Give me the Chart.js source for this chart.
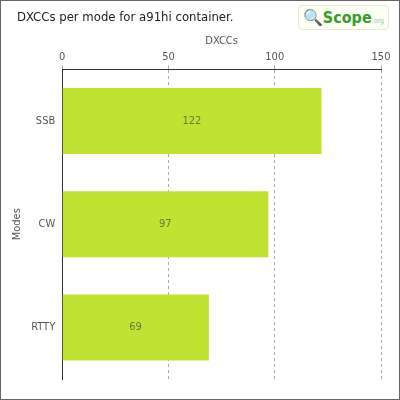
<!DOCTYPE html>
<html>
<head>
<script src="https://cdn.jsdelivr.net/npm/chart.js@4/dist/chart.umd.min.js"></script>
<style>
  body { margin: 0; background: #fff; }
  #wrap { position: relative; width: 398px; height: 398px; border: 1px solid #666; }
  #title { position: absolute; left: 16px; top: 8px; font: 13px "DejaVu Sans Condensed", sans-serif; color: #222; }
  #logo { position: absolute; right: 10px; top: 4px; font: bold 16px "DejaVu Sans Condensed", sans-serif; color: #3a9a2a; border: 1px solid #e4ecd0; border-radius: 4px; padding: 2px 4px; background: #fbfff4; }
  #logo small { font-size: 7px; color: #9c9; font-weight: normal; }
</style>
</head>
<body>
<div id="wrap">
  <canvas id="chart" width="398" height="398"></canvas>
  <div id="title">DXCCs per mode for a91hi container.</div>
  <div id="logo">🔍Scope<small>.org</small></div>
</div>
<script>
const modes = ["SSB", "CW", "RTTY"];
const dxccs = [122, 97, 69];
const xTicks = [0, 50, 100, 150];

const fontFamily = "'DejaVu Sans Condensed', sans-serif";

new Chart(document.getElementById("chart"), {
    type: "bar",
    data: {
        labels: modes,
        datasets: [{
            data: dxccs,
            backgroundColor: "#bfe330",
            barPercentage: 0.64,
            categoryPercentage: 1,
        }],
    },
    options: {
        indexAxis: "y",
        responsive: false,
        animation: false,
        layout: { padding: { top: 34, right: 18, bottom: 20, left: 6 } },
        plugins: {
            legend: { display: false },
            tooltip: { enabled: false },
        },
        scales: {
            x: {
                position: "top",
                min: 0,
                max: 150,
                afterBuildTicks: (axis) => { axis.ticks = xTicks.map((v) => ({ value: v })); },
                ticks: { color: "#555", font: { family: fontFamily, size: 11 }, padding: 2 },
                grid: { color: "#aaa", tickLength: 4 },
                border: { color: "#333", dash: [3, 3] },
                title: { display: true, text: "DXCCs", color: "#555", font: { family: fontFamily, size: 11 }, padding: 0 },
            },
            y: {
                ticks: { color: "#555", font: { family: fontFamily, size: 11 } },
                grid: { display: false, tickLength: 4 },
                border: { color: "#333" },
                title: { display: true, text: "Modes", color: "#555", font: { family: fontFamily, size: 11 } },
            },
        },
    },
    plugins: [{
        id: "barLabels",
        afterDatasetsDraw(chart) {
            const ctx = chart.ctx;
            const meta = chart.getDatasetMeta(0);
            const left = chart.scales.x.getPixelForValue(0);
            ctx.save();
            ctx.fillStyle = "#6a7a3a";
            ctx.font = "11px " + fontFamily;
            ctx.textAlign = "center";
            ctx.textBaseline = "middle";
            meta.data.forEach((bar, i) => {
                ctx.fillText(dxccs[i], (left + bar.x) / 2, bar.y);
            });
            ctx.restore();
        },
    }],
});
</script>
</body>
</html>
